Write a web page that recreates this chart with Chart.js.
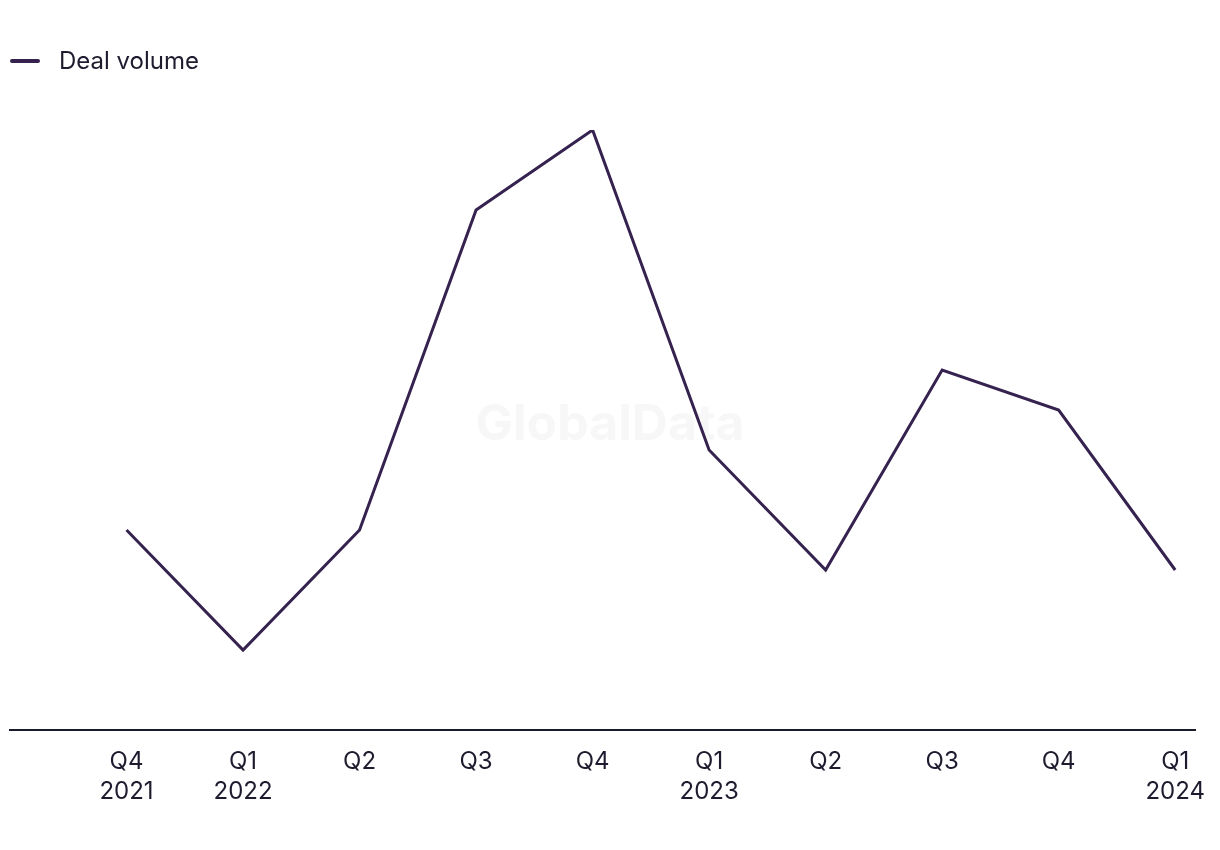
<!DOCTYPE html>
<html>
<head>
<meta charset="utf-8">
<script src="https://cdn.jsdelivr.net/npm/chart.js@4"></script>
<style>
    html, body { margin: 0; padding: 0; background: #fff; }
    .wrap { position: relative; width: 1220px; height: 850px; }
    .legend { position: absolute; left: 10px; top: 46px; display: flex; align-items: center;
        font-family: Inter, "Noto Sans", sans-serif; font-size: 24px; color: #1d1b2e; }
    .legend .swatch { width: 30px; height: 4px; border-radius: 2px; background: #35224f; margin-right: 19px; }
</style>
</head>
<body>
<div class="wrap">
    <canvas id="dealChart" width="1220" height="850"></canvas>
    <div class="legend"><span class="swatch"></span><span>Deal volume</span></div>
</div>
<script>
const quarters = ['Q4', 'Q1', 'Q2', 'Q3', 'Q4', 'Q1', 'Q2', 'Q3', 'Q4', 'Q1'];
const years = ['2021', '2022', '', '', '', '2023', '', '', '', '2024'];
const dealVolume = [5, 2, 5, 13, 15, 7, 4, 9, 8, 4];

document.addEventListener('DOMContentLoaded', function() {
    // faint watermark behind the line
    const watermark = {
        id: 'watermark',
        beforeDatasetsDraw(chart) {
            const ctx = chart.ctx;
            ctx.save();
            ctx.font = 'bold 50px Inter, "Noto Sans", sans-serif';
            ctx.fillStyle = '#f7f7f7';
            ctx.textAlign = 'center';
            ctx.textBaseline = 'middle';
            ctx.fillText('GlobalData', 610, 425);
            ctx.restore();
        }
    };

    const ctx = document.getElementById('dealChart').getContext('2d');
    new Chart(ctx, {
        type: 'line',
        data: {
            datasets: [{
                label: 'Deal volume',
                data: dealVolume.map((v, i) => ({ x: i, y: v })),
                borderColor: '#35224f',
                borderWidth: 3,
                pointRadius: 0,
                tension: 0
            }]
        },
        options: {
            responsive: false,
            animation: false,
            layout: { padding: { left: 10, right: 25, top: 130, bottom: 0 } },
            plugins: {
                legend: { display: false },
                tooltip: { enabled: false }
            },
            scales: {
                x: {
                    type: 'linear',
                    min: -1,
                    max: 9.17,
                    grid: { display: false, drawTicks: false },
                    border: { display: true, color: '#1a1a2e', width: 2 },
                    afterBuildTicks: scale => {
                        scale.ticks = quarters.map((q, i) => ({ value: i }));
                    },
                    afterFit: scale => {
                        scale.height = 120;
                        scale.paddingLeft = 0;
                        scale.paddingRight = 0;
                    },
                    ticks: {
                        autoSkip: false,
                        maxRotation: 0,
                        padding: 17,
                        color: '#1d1b2e',
                        font: { family: 'Inter, "Noto Sans", sans-serif', size: 24, lineHeight: 1.25 },
                        callback: value => {
                            const i = Math.round(value);
                            return years[i] ? [quarters[i], years[i]] : quarters[i];
                        }
                    }
                },
                y: {
                    display: false,
                    min: 0,
                    max: 15
                }
            }
        },
        plugins: [watermark]
    });
});
</script>
</body>
</html>
